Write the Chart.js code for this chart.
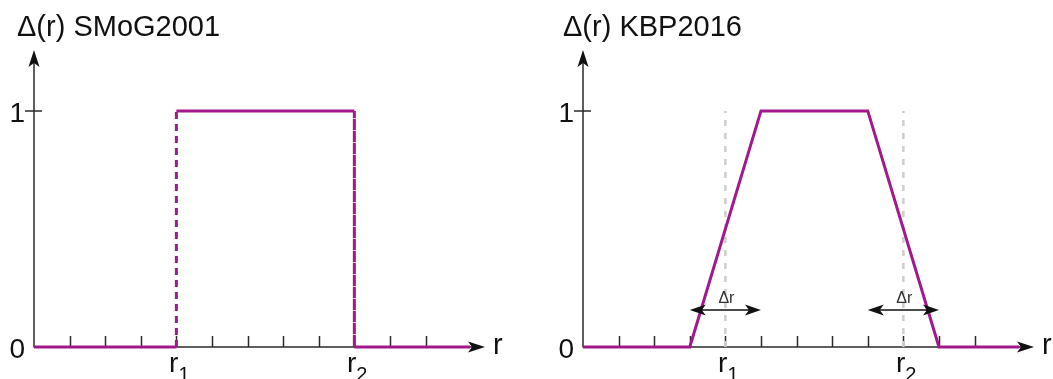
<!DOCTYPE html>
<html>
<head>
<meta charset="utf-8">
<script src="https://cdn.jsdelivr.net/npm/chart.js@4/dist/chart.umd.min.js"></script>
<style>
  html, body { margin: 0; padding: 0; background: #ffffff; }
  body { width: 1053px; height: 379px; position: relative; overflow: hidden; }
  canvas { position: absolute; top: 0; }
</style>
</head>
<body>
<canvas id="left" width="526" height="379" style="left:0px"></canvas>
<canvas id="right" width="504" height="379" style="left:549px"></canvas>
<script>
// ---- data ----
const xTickPositions = [1, 2, 3, 4, 5, 6, 7, 8, 9, 10, 11];
const yTickValues = [0, 1];
const yTickLabels = ['0', '1'];
const r1 = 4;
const r2 = 9;
const xLabels = [{ pos: r1, base: 'r', sub: '1' }, { pos: r2, base: 'r', sub: '2' }];

const smogX = [0, 4, 4, 9, 9, 12.25];
const smogY = [0, 0, 1, 1, 0, 0];

const kbpX = [0, 3, 5, 8, 10, 12.25];
const kbpY = [0, 0, 1, 1, 0, 0];

const deltaR = 2;
const arrowLevel = 0.157;

const xAxisEnd = 12.67;
const yAxisEnd = 1.258;

// ---- helpers ----
const MAGENTA = '#a1198b';
const AXIS = '#2b2b2b';
const FONT = '"Liberation Sans", Arial, Helvetica, sans-serif';

function pts(xs, ys) { return xs.map((v, i) => ({ x: v, y: ys[i] })); }

function arrowHead(ctx, tx, ty, dx, dy, len, half, indent) {
  const nx = -dy, ny = dx;
  const bx = tx - dx * len, by = ty - dy * len;
  ctx.beginPath();
  ctx.moveTo(tx, ty);
  ctx.lineTo(bx + nx * half, by + ny * half);
  ctx.lineTo(tx - dx * (len - indent), ty - dy * (len - indent));
  ctx.lineTo(bx - nx * half, by - ny * half);
  ctx.closePath();
  ctx.fill();
}

const axesPlugin = {
  id: 'drawAxes',
  beforeDatasetsDraw(chart, args, opts) {
    const { ctx, scales: { x, y } } = chart;
    const x0 = x.getPixelForValue(0), y0 = y.getPixelForValue(0);
    const xe = x.getPixelForValue(xAxisEnd), ye = y.getPixelForValue(yAxisEnd);
    ctx.save();
    ctx.strokeStyle = AXIS;
    ctx.fillStyle = '#111';
    ctx.lineWidth = 1.5;
    ctx.beginPath();
    ctx.moveTo(x0, y0); ctx.lineTo(xe - 6, y0);
    ctx.moveTo(x0, y0 + 0.5); ctx.lineTo(x0, ye + 6);
    ctx.stroke();
    arrowHead(ctx, xe, y0, 1, 0, 17, 5.5, 4);
    arrowHead(ctx, x0, ye, 0, -1, 17, 5.5, 4);
    // x ticks (pointing up)
    ctx.beginPath();
    xTickPositions.forEach(t => {
      const px = Math.round(x.getPixelForValue(t)) + 0.5;
      ctx.moveTo(px, y0); ctx.lineTo(px, y0 - 11);
    });
    // y tick at 1
    const y1 = y.getPixelForValue(1);
    ctx.moveTo(x0 - 9, y1); ctx.lineTo(x0 + 8, y1);
    ctx.stroke();
    // y tick labels
    ctx.fillStyle = '#111';
    ctx.font = '28px ' + FONT;
    ctx.textAlign = 'right';
    ctx.textBaseline = 'alphabetic';
    yTickValues.forEach((v, i) => {
      const py = y.getPixelForValue(v);
      ctx.fillText(yTickLabels[i], x0 - 9, py + 11);
    });
    // x labels r1, r2
    xLabels.forEach(l => {
      const px = x.getPixelForValue(l.pos);
      ctx.font = '28px ' + FONT;
      ctx.textAlign = 'right';
      ctx.fillText(l.base, px + 2, y0 + 25);
      ctx.font = '20px ' + FONT;
      ctx.textAlign = 'left';
      ctx.fillText(l.sub, px + 2, y0 + 34);
    });
    // axis name r
    ctx.font = '29px ' + FONT;
    ctx.textAlign = 'left';
    ctx.fillText('r', xe + 8, y0 + 7);
    // title
    ctx.font = '29px ' + FONT;
    ctx.fillText(opts.title, x0 + opts.titleDx, 36);
    ctx.restore();
  },
  afterDatasetsDraw(chart) {
    const { ctx, scales: { x, y } } = chart;
    ctx.save();
    chart.data.datasets.forEach(ds => {
      if (!ds.doubleArrow) return;
      const a = ds.data[0], b = ds.data[ds.data.length - 1];
      const ax = x.getPixelForValue(a.x), bx = x.getPixelForValue(b.x);
      const py = y.getPixelForValue(a.y);
      ctx.fillStyle = '#111';
      arrowHead(ctx, ax, py, -1, 0, 16, 5.5, 4);
      arrowHead(ctx, bx, py, 1, 0, 16, 5.5, 4);
      ctx.font = '16px ' + FONT;
      ctx.fillStyle = '#333';
      ctx.textAlign = 'center';
      ctx.textBaseline = 'alphabetic';
      ctx.fillText('\u0394r', (ax + bx) / 2 + 1, py - 7);
    });
    ctx.restore();
  }
};

function baseOptions(title, titleDx) {
  return {
    responsive: false,
    animation: false,
    devicePixelRatio: 1,
    layout: { padding: { left: 34, right: 0, top: 50, bottom: 32 } },
    plugins: {
      legend: { display: false },
      tooltip: { enabled: false },
      drawAxes: { title: title, titleDx: titleDx }
    },
    elements: { point: { radius: 0 } },
    scales: {
      x: { type: 'linear', min: 0, max: xAxisEnd, display: false },
      y: { type: 'linear', min: 0, max: yAxisEnd, display: false }
    }
  };
}

const leftOpts = baseOptions('\u0394(r) SMoG2001', -17);
leftOpts.layout.padding.right = 41;
new Chart(document.getElementById('left'), {
  type: 'line',
  data: {
    datasets: [{
      data: pts(smogX, smogY),
      borderColor: MAGENTA,
      borderWidth: 3,
      borderJoinStyle: 'miter',
      borderCapStyle: 'butt',
      tension: 0,
      clip: false,
      segment: {
        borderDash: c => (c.p0.parsed.x === c.p1.parsed.x ? [7, 5] : undefined)
      }
    }]
  },
  options: leftOpts,
  plugins: [axesPlugin]
});

const rightOpts = baseOptions('\u0394(r) KBP2016', -20);
rightOpts.layout.padding.right = 19;
new Chart(document.getElementById('right'), {
  type: 'line',
  data: {
    datasets: [
      {
        data: pts([r1, r1], [0, 1]),
        borderColor: '#cdcdcd', borderWidth: 2.5, borderDash: [6, 7],
        clip: false, order: 3
      },
      {
        data: pts([r2, r2], [0, 1]),
        borderColor: '#cdcdcd', borderWidth: 2.5, borderDash: [6, 7],
        clip: false, order: 3
      },
      {
        data: pts(kbpX, kbpY),
        borderColor: MAGENTA, borderWidth: 3,
        borderJoinStyle: 'miter', borderCapStyle: 'butt',
        tension: 0, clip: false, order: 2
      },
      {
        data: pts([r1 - deltaR / 2 + 0.3, r1 + deltaR / 2 - 0.3], [arrowLevel, arrowLevel]),
        borderColor: '#111', borderWidth: 1.5, clip: false, order: 1, doubleArrow: false
      },
      {
        data: pts([r2 - deltaR / 2 + 0.3, r2 + deltaR / 2 - 0.3], [arrowLevel, arrowLevel]),
        borderColor: '#111', borderWidth: 1.5, clip: false, order: 1, doubleArrow: false
      },
      {
        data: pts([r1 - deltaR / 2, r1 + deltaR / 2], [arrowLevel, arrowLevel]),
        borderColor: 'rgba(0,0,0,0)', borderWidth: 0, clip: false, order: 0, doubleArrow: true
      },
      {
        data: pts([r2 - deltaR / 2, r2 + deltaR / 2], [arrowLevel, arrowLevel]),
        borderColor: 'rgba(0,0,0,0)', borderWidth: 0, clip: false, order: 0, doubleArrow: true
      }
    ]
  },
  options: rightOpts,
  plugins: [axesPlugin]
});
</script>
</body>
</html>
